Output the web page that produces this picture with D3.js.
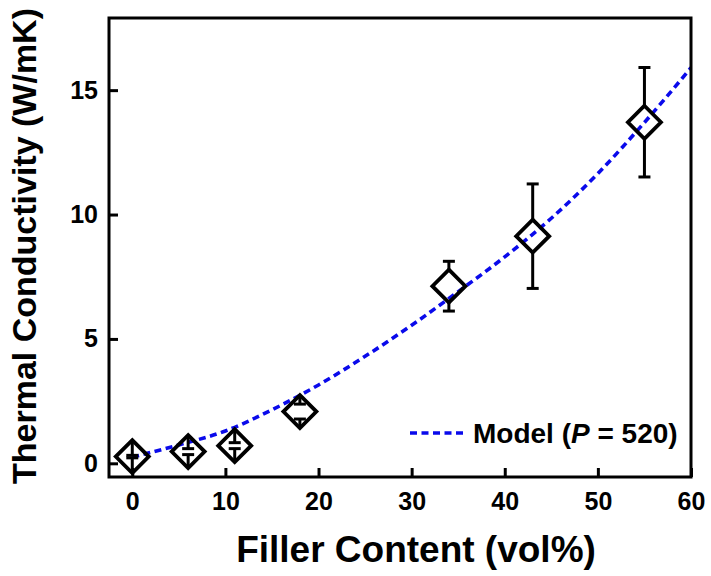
<!DOCTYPE html>
<html>
<head>
<meta charset="utf-8">
<script src="https://cdn.jsdelivr.net/npm/d3@7"></script>
<style>
  html, body { margin: 0; padding: 0; background: #fff; }
  text { font-family: "Liberation Sans", Arial, sans-serif; font-weight: bold; fill: #000; }
</style>
</head>
<body>
<svg id="chart" width="711" height="576"></svg>
<script>
// ---- data ----
const fillerContent = [0, 6, 11, 18, 34, 43, 55];
const conductivity  = [0.27, 0.47, 0.71, 2.08, 7.12, 9.13, 13.71];
const errorValues   = [0.05, 0.12, 0.12, 0.3, 1.0, 2.1, 2.2];

const modelX = [0, 5, 10, 15, 20, 25, 30, 35, 40, 45, 50, 55, 60];
const modelY = [0.25, 0.74, 1.3, 2.15, 3.15, 4.3, 5.55, 6.9, 8.3, 9.85, 11.65, 13.7, 15.9];

const xTicks = [0, 10, 20, 30, 40, 50, 60];
const yTicks = [0, 5, 10, 15];

const xLabel = "Filler Content (vol%)";
const yLabel = "Thermal Conductivity (W/mK)";
const legendLabel = ["Model (", "P", " = 520)"];

// ---- layout ----
const svg = d3.select("#chart");
const pLeft = 109, pRight = 691, pTop = 18, pBottom = 477;

const x = d3.scaleLinear().domain([-2.5, 60]).range([pLeft, pRight]);
const y = d3.scaleLinear().domain([-0.55, 17.9]).range([pBottom, pTop]);

// model curve
const line = d3.line()
  .x((d, i) => x(modelX[i]))
  .y((d, i) => y(modelY[i]))
  .curve(d3.curveMonotoneX);

svg.append("clipPath").attr("id", "clip")
  .append("rect").attr("x", pLeft).attr("y", pTop)
  .attr("width", pRight - pLeft).attr("height", pBottom - pTop);

svg.append("path")
  .datum(modelY)
  .attr("d", line)
  .attr("clip-path", "url(#clip)")
  .attr("fill", "none")
  .attr("stroke", "#0a0aeb")
  .attr("stroke-width", 3.6)
  .attr("stroke-dasharray", "7,4.5");

// error bars (from cap to the diamond vertex)
const R = 16.5;
const capW = 6;
const eg = svg.append("g").attr("stroke", "#000").attr("stroke-width", 3).attr("fill", "none");
fillerContent.forEach((fx, i) => {
  const cx = x(fx), cy = y(conductivity[i]);
  const yt = y(conductivity[i] + errorValues[i]);
  const yb = y(conductivity[i] - errorValues[i]);
  eg.append("line").attr("x1", cx).attr("x2", cx).attr("y1", yt).attr("y2", cy - R);
  eg.append("line").attr("x1", cx).attr("x2", cx).attr("y1", yb).attr("y2", cy + R);
  eg.append("line").attr("x1", cx - capW).attr("x2", cx + capW).attr("y1", yt).attr("y2", yt);
  eg.append("line").attr("x1", cx - capW).attr("x2", cx + capW).attr("y1", yb).attr("y2", yb);
});

// diamonds
svg.append("g").selectAll("path")
  .data(fillerContent)
  .join("path")
  .attr("d", (d, i) => {
    const cx = x(d), cy = y(conductivity[i]);
    return `M${cx},${cy - R}L${cx + R},${cy}L${cx},${cy + R}L${cx - R},${cy}Z`;
  })
  .attr("fill", "none")
  .attr("stroke", "#000")
  .attr("stroke-width", 3.8)
  .attr("stroke-linejoin", "miter");

// frame
svg.append("rect")
  .attr("x", pLeft).attr("y", pTop)
  .attr("width", pRight - pLeft).attr("height", pBottom - pTop)
  .attr("fill", "none").attr("stroke", "#000").attr("stroke-width", 3);

// axes (ticks inward)
const xAxis = d3.axisBottom(x).tickValues(xTicks).tickSizeInner(-9).tickSizeOuter(0).tickPadding(15);
const gx = svg.append("g").attr("transform", `translate(0,${pBottom})`).call(xAxis);
gx.select(".domain").remove();
gx.selectAll(".tick line").attr("stroke", "#000").attr("stroke-width", 3);
gx.selectAll(".tick text")
  .style("font-family", '"Liberation Sans", Arial, sans-serif')
  .style("font-weight", "bold")
  .style("font-size", "25px").attr("fill", "#000");

const yAxis = d3.axisLeft(y).tickValues(yTicks).tickSizeInner(-9).tickSizeOuter(0).tickPadding(11);
const gy = svg.append("g").attr("transform", `translate(${pLeft},0)`).call(yAxis);
gy.select(".domain").remove();
gy.selectAll(".tick line").attr("stroke", "#000").attr("stroke-width", 3);
gy.selectAll(".tick text")
  .style("font-family", '"Liberation Sans", Arial, sans-serif')
  .style("font-weight", "bold")
  .style("font-size", "25px").attr("fill", "#000");

// axis titles
svg.append("text")
  .attr("x", 416).attr("y", 562)
  .attr("text-anchor", "middle")
  .style("font-size", "37px")
  .text(xLabel);

svg.append("text")
  .attr("transform", "translate(36,246) rotate(-90)")
  .attr("text-anchor", "middle")
  .style("font-size", "34px")
  .text(yLabel);

// legend
svg.append("line")
  .attr("x1", 410).attr("x2", 466).attr("y1", 433).attr("y2", 433)
  .attr("stroke", "#0a0aeb").attr("stroke-width", 3.6)
  .attr("stroke-dasharray", "7,4.5");
const lt = svg.append("text").attr("x", 473).attr("y", 443).style("font-size", "28px");
lt.append("tspan").text(legendLabel[0]);
lt.append("tspan").style("font-style", "italic").text(legendLabel[1]);
lt.append("tspan").text(legendLabel[2]);
</script>
</body>
</html>
